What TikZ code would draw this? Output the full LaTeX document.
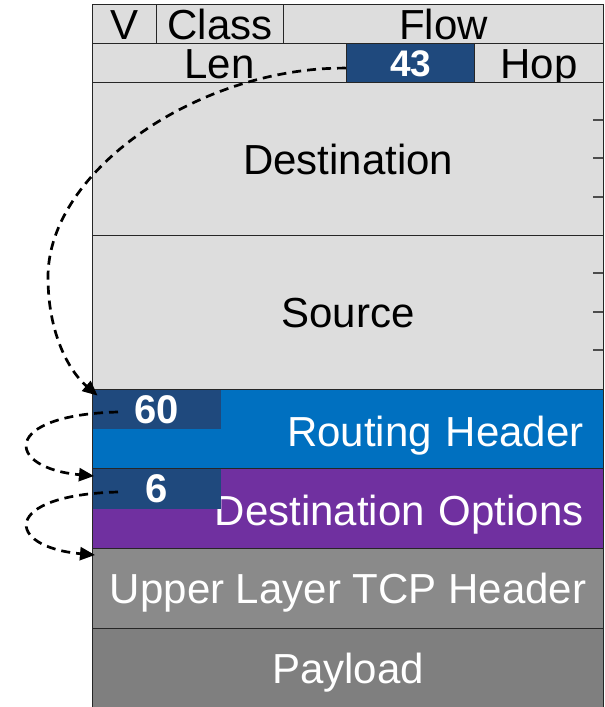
\documentclass[tikz,border=0pt]{standalone}
\usepackage{fontspec}
\setmainfont{Liberation Sans}
\usetikzlibrary{arrows.meta}
\definecolor{lgray}{HTML}{DDDDDD}
\definecolor{rblue}{HTML}{0070C0}
\definecolor{dpurple}{HTML}{7030A0}
\definecolor{dblue}{HTML}{1F497D}
\definecolor{ugray}{HTML}{8A8A8A}
\definecolor{pgray}{HTML}{7F7F7F}
\begin{document}
\begin{tikzpicture}[x=1pt,y=-1pt,
  every node/.style={font=\fontsize{42}{48}\selectfont},
  cell/.style={draw=black!85, line width=1.2pt, anchor=north west, inner sep=0pt, text height=30pt, text depth=0pt},
  numbox/.style={fill=dblue, anchor=north west, inner sep=0pt, text=white, text height=28pt, text depth=0pt, font=\fontsize{40}{44}\selectfont\bfseries},
  conn/.style={line width=2.7pt, dash pattern=on 9pt off 6pt, -{Triangle[length=15pt,width=13pt]}},
  tick/.style={draw=black!70, line width=1.3pt}]
\useasboundingbox (0,0) rectangle (605,707);
% header rows
\node[cell, fill=lgray, minimum width=64pt, minimum height=39pt] (v) at (92,4) {V};
\node[cell, fill=lgray, minimum width=127pt, minimum height=39pt] (cls) at (156,4) {Class};
\node[cell, fill=lgray, minimum width=320pt, minimum height=39pt] (flow) at (283,4) {Flow};
\node[cell, fill=lgray, minimum width=254pt, minimum height=39pt] (len) at (92,43) {Len};
\node[cell, fill=dblue, text=white, minimum width=128pt, minimum height=39pt, text height=26pt, font=\fontsize{37}{42}\selectfont\bfseries] (n43) at (346,43) {43};
\node[cell, fill=lgray, minimum width=129pt, minimum height=39pt] (hop) at (474,43) {Hop};
% address blocks
\node[cell, fill=lgray, minimum width=511pt, minimum height=153pt] (dst) at (92,82) {Destination};
\node[cell, fill=lgray, minimum width=511pt, minimum height=154pt] (src) at (92,235) {Source};
\node[cell, fill=rblue, text=white, minimum width=511pt, minimum height=79pt, inner xsep=20pt, text width=471pt, align=right, text height=34pt] (rh) at (92,389) {Routing Header};
\node[cell, fill=dpurple, text=white, minimum width=511pt, minimum height=80pt, inner xsep=20pt, text width=471pt, align=right, text height=34pt] (dopt) at (92,468) {Destination Options};
\node[cell, fill=ugray, text=white, minimum width=511pt, minimum height=80pt] (tcp) at (92,548) {Upper Layer TCP Header};
\node[cell, fill=pgray, text=white, minimum width=511pt, minimum height=80pt] (pay) at (92,628) {Payload};
% ticks
\foreach \ty in {120,158,197,273,312,350} \draw[tick] (593,\ty) -- (603,\ty);
% number boxes
\node[numbox, minimum width=128pt, minimum height=39pt] (n60) at (92.6,389.6) {60};
\node[numbox, minimum width=128pt, minimum height=40pt] (n6) at (92.6,468.6) {6};
% connectors
\coordinate (s2) at (118,412);
\coordinate (e2) at (94,476);
\coordinate (s3) at (118,492);
\coordinate (e3) at (95,555);
\draw[conn] ([yshift=-5pt]n43.west) .. controls (200,67) and (48,170) .. (48,277) .. controls (48,335) and (70,372) .. ([shift={(5pt,-6pt)}]n60.north west);
\draw[conn] (s2) .. controls (0,415) and (5,468) .. (e2);
\draw[conn] (s3) .. controls (0,495) and (5,547) .. (e3);
\end{tikzpicture}
\end{document}
